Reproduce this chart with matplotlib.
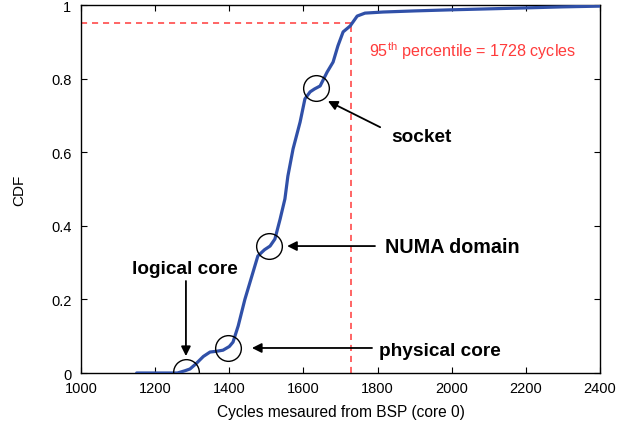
import numpy as np
import matplotlib
matplotlib.use("Agg")
import matplotlib.pyplot as plt

plt.rcParams['font.family'] = ['Liberation Sans', 'DejaVu Sans']
plt.rcParams['mathtext.fontset'] = 'custom'
plt.rcParams['mathtext.rm'] = 'Liberation Sans'

# CDF curve
cycles = [1150, 1260, 1280, 1294, 1310, 1330, 1348, 1365, 1383, 1400, 1410,
          1424, 1442, 1461, 1477, 1495, 1510, 1523, 1537, 1550, 1558, 1572,
          1591, 1604, 1618, 1630, 1645, 1664, 1680, 1693, 1707, 1726, 1745,
          1766, 1815, 1900, 2000, 2192, 2300, 2400]
cdf = [0.0, 0.0, 0.006, 0.011, 0.025, 0.045, 0.057, 0.059, 0.062, 0.072, 0.084,
       0.128, 0.200, 0.264, 0.318, 0.335, 0.345, 0.364, 0.418, 0.473, 0.535, 0.609,
       0.682, 0.745, 0.764, 0.772, 0.780, 0.818, 0.845, 0.889, 0.927, 0.943, 0.970,
       0.978, 0.981, 0.984, 0.987, 0.992, 0.995, 0.997]

# circled points
mark_x = [1282, 1397, 1507, 1634]
mark_y = [0.002, 0.068, 0.345, 0.774]

p95 = 1728

fig = plt.figure(figsize=(6.19, 4.27), dpi=100)
ax = fig.add_axes([0.1309, 0.1241, 0.8384, 0.8618])

ax.plot(cycles, cdf, color='#3050a8', lw=2.3, solid_capstyle='round',
        solid_joinstyle='round', zorder=3)
ax.plot(mark_x, mark_y, 'o', mfc='none', mec='black', ms=18.5, mew=1.0, zorder=4)

red = '#ff3b3b'
ax.plot([1000, p95], [0.95, 0.95], color=red, lw=1.1, dashes=(4, 3.2))
ax.plot([p95, p95], [0, 0.95], color=red, lw=1.1, dashes=(4, 3.2))
ax.text(1776, 0.878, r'95$^{\mathrm{th}}$ percentile = 1728 cycles',
        color=red, fontsize=11.6, va='center', ha='left')

arrow = dict(arrowstyle='-|>', color='black', lw=1.3, mutation_scale=14,
             shrinkA=0, shrinkB=0)
ax.annotate('', xy=(1283, 0.046), xytext=(1283, 0.25), arrowprops=arrow)
ax.text(1281, 0.283, 'logical core', fontsize=13.7, fontweight='bold',
        ha='center', va='center')
ax.annotate('', xy=(1461, 0.068), xytext=(1785, 0.068), arrowprops=arrow)
ax.text(1804, 0.062, 'physical core', fontsize=13.7, fontweight='bold',
        ha='left', va='center')
ax.annotate('', xy=(1556, 0.345), xytext=(1793, 0.345), arrowprops=arrow)
ax.text(1820, 0.345, 'NUMA domain', fontsize=14.2, fontweight='bold',
        ha='left', va='center')
ax.annotate('', xy=(1666, 0.739), xytext=(1807, 0.668), arrowprops=arrow)
ax.text(1836, 0.642, 'socket', fontsize=13.7, fontweight='bold',
        ha='left', va='center')

ax.set_xlim(1000, 2400)
ax.set_ylim(0, 1)
ax.set_xticks(np.arange(1000, 2401, 200))
ax.set_yticks([0, 0.2, 0.4, 0.6, 0.8, 1])
ax.set_yticklabels(['0', '0.2', '0.4', '0.6', '0.8', '1'])
ax.tick_params(direction='in', top=True, right=True, length=4, width=0.8,
               labelsize=10.5)
ax.tick_params(axis='y', pad=7)
ax.tick_params(axis='x', pad=6)
for s in ax.spines.values():
    s.set_linewidth(1.0)

ax.set_xlabel('Cycles mesaured from BSP (core 0)', fontsize=11.2, labelpad=6)
ax.set_ylabel('CDF', fontsize=11, labelpad=18)

fig.savefig('out.png', dpi=100)
